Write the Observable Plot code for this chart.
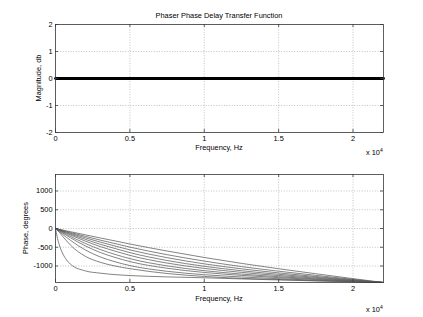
<!DOCTYPE html>
<html>
<head>
<meta charset="utf-8">
<script src="https://cdn.jsdelivr.net/npm/d3@7"></script>
<script src="https://cdn.jsdelivr.net/npm/@observablehq/plot@0.6"></script>
<style>
  html, body { margin: 0; padding: 0; background: #fff; }
  #wrap { position: relative; width: 423px; height: 317px; background: #fff; overflow: hidden; }
  #wrap svg { position: absolute; left: 0; }
</style>
</head>
<body>
<div id="wrap"></div>
<script>
// ---------- data ----------
const fs2 = 22050;
const xTicks = [0, 5000, 10000, 15000, 20000];
const xTickLabels = ["0", "0.5", "1", "1.5", "2"];
const magTicks = [-2, -1, 0, 1, 2];
const phaseTicks = [-1000, -500, 0, 500, 1000];

const magFreq = [0, 22050];
const magDb = [0, 0];

const freq = [0, 100, 250, 500, 750, 1000, 2000, 3000, 4000, 5000, 7500, 10000, 12500, 15000, 17500, 20000, 22050];
const phase1  = [0, -8, -21, -42, -64, -85, -169, -252, -331, -413, -600, -773, -930, -1073, -1207, -1337, -1440];
const phase2  = [0, -10, -26, -53, -79, -105, -208, -309, -402, -496, -698, -869, -1015, -1139, -1250, -1357, -1440];
const phase3  = [0, -12, -31, -63, -94, -125, -247, -362, -467, -570, -778, -943, -1075, -1184, -1280, -1370, -1440];
const phase4  = [0, -15, -37, -74, -111, -147, -289, -420, -534, -643, -853, -1008, -1126, -1222, -1304, -1381, -1440];
const phase5  = [0, -17, -43, -87, -130, -172, -335, -481, -604, -717, -922, -1064, -1170, -1254, -1325, -1390, -1440];
const phase6  = [0, -21, -53, -105, -157, -208, -397, -560, -690, -803, -997, -1124, -1215, -1285, -1344, -1398, -1440];
const phase7  = [0, -25, -63, -125, -186, -246, -462, -638, -771, -882, -1060, -1172, -1250, -1310, -1360, -1405, -1440];
const phase8  = [0, -33, -82, -162, -240, -314, -571, -757, -887, -988, -1141, -1232, -1293, -1339, -1378, -1413, -1440];
const phase9  = [0, -40, -100, -220, -330, -440, -740, -900, -1000, -1071, -1200, -1278, -1330, -1360, -1392, -1418, -1440];
const phase10 = [0, -200, -430, -680, -840, -950, -1130, -1190, -1230, -1255, -1290, -1314, -1345, -1372, -1398, -1420, -1440];
const phaseSeries = [phase1, phase2, phase3, phase4, phase5, phase6, phase7, phase8, phase9, phase10];

// ---------- tables ----------
const magData = magFreq.map((f, i) => ({f, v: magDb[i]}));
const phaseData = phaseSeries.flatMap((s, k) => s.map((v, i) => ({f: freq[i], v, k})));

// ---------- styling ----------
const FONT = "'Liberation Sans', Arial, Helvetica, sans-serif";
const FS = 7.4;
const W = 423, ML = 55, MR = 40;
const frameColor = "#3a3a3a";
const gridStyle = {stroke: "#9a9a9a", strokeOpacity: 1, strokeWidth: 0.6, strokeDasharray: "1,1.6"};
const xFmt = d => xTickLabels[xTicks.indexOf(d)];
const yFmt = d => String(d);

function panel({height, mt, mb, yDomain, yTicks, marks}) {
  const ph = height - mt - mb, pw = W - ML - MR;
  return Plot.plot({
    width: W, height, marginTop: mt, marginBottom: mb, marginLeft: ML, marginRight: MR,
    style: {fontFamily: FONT, fontSize: FS + "px", background: "transparent", color: "#000", overflow: "visible"},
    x: {domain: [0, fs2]},
    y: {domain: yDomain},
    marks: [
      Plot.gridX(xTicks, gridStyle),
      Plot.gridY(yTicks, gridStyle),
      ...marks,
      Plot.frame({stroke: frameColor, strokeWidth: 0.8}),
      Plot.tickX(xTicks, {x: d => d, insetTop: ph - 3, stroke: frameColor, strokeWidth: 0.8}),
      Plot.tickX(xTicks, {x: d => d, insetBottom: ph - 3, stroke: frameColor, strokeWidth: 0.8}),
      Plot.tickY(yTicks, {y: d => d, insetRight: pw - 3, stroke: frameColor, strokeWidth: 0.8}),
      Plot.tickY(yTicks, {y: d => d, insetLeft: pw - 3, stroke: frameColor, strokeWidth: 0.8}),
      Plot.axisX(xTicks, {tickSize: 0, tickPadding: 3, tickFormat: xFmt, label: null, fill: "#000"}),
      Plot.axisY(yTicks, {tickSize: 0, tickPadding: 3, tickFormat: yFmt, label: null, fill: "#000"})
    ]
  });
}

function addText(svg, x, y, str, opts = {}) {
  const t = d3.select(svg).append("text")
    .attr("x", x).attr("y", y)
    .attr("text-anchor", opts.anchor || "middle")
    .attr("font-family", FONT).attr("font-size", (opts.size || FS) + "px")
    .attr("fill", "#000");
  if (opts.rotate) t.attr("transform", `rotate(-90 ${x} ${y})`);
  t.text(str);
  return t;
}
function addX10(svg, x, y) {
  const t = d3.select(svg).append("text")
    .attr("x", x).attr("y", y).attr("text-anchor", "start")
    .attr("font-family", FONT).attr("font-size", FS + "px").attr("fill", "#000");
  t.append("tspan").text("x 10");
  t.append("tspan").attr("dy", -3.5).attr("font-size", (FS - 2.4) + "px").text("4");
}

// ---------- top panel ----------
const topPanel = panel({
  height: 158, mt: 24, mb: 26, yDomain: [-2, 2], yTicks: magTicks,
  marks: [Plot.line(magData, {x: "f", y: "v", stroke: "#000", strokeWidth: 2.8})]
});
topPanel.style.top = "0px";
addText(topPanel, 219, 18, "Phaser Phase Delay Transfer Function");
addText(topPanel, 219, 150, "Frequency, Hz");
addText(topPanel, 41, 78, "Magnitude, db", {rotate: true});
addX10(topPanel, 366, 155);

// ---------- bottom panel ----------
const bottomPanel = panel({
  height: 159, mt: 16, mb: 35, yDomain: [-1440, 1440], yTicks: phaseTicks,
  marks: [Plot.line(phaseData, {x: "f", y: "v", z: "k", stroke: "#5a5a5a", strokeWidth: 0.75, curve: "monotone-x"})]
});
bottomPanel.style.top = "158px";
addText(bottomPanel, 219, 143, "Frequency, Hz");
addText(bottomPanel, 28, 70, "Phase, degrees", {rotate: true});
addX10(bottomPanel, 366, 154);

const wrap = document.getElementById("wrap");
wrap.appendChild(topPanel);
wrap.appendChild(bottomPanel);
</script>
</body>
</html>
